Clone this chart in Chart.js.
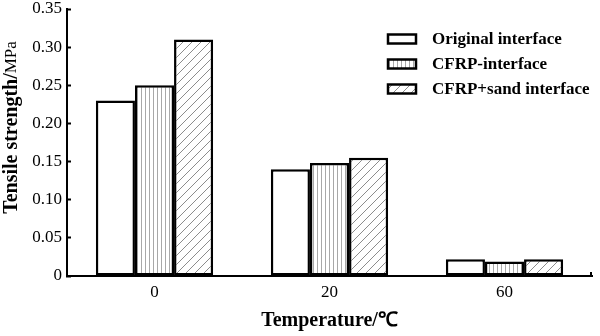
<!DOCTYPE html>
<html>
<head>
<meta charset="utf-8">
<title>Tensile strength vs temperature</title>
<script src="https://cdn.jsdelivr.net/npm/chart.js@4.4.0/dist/chart.umd.min.js"></script>
<style>
    html, body { margin: 0; padding: 0; background: #fff; }
    #wrap { width: 600px; height: 336px; }
</style>
</head>
<body>
<div id="wrap"><canvas id="strengthChart" width="600" height="336"></canvas></div>
<script>
// Data
const temperatures = ['0', '20', '60'];
const seriesNames = ['Original interface', 'CFRP-interface', 'CFRP+sand interface'];
const originalValues = [0.23, 0.14, 0.022];
const cfrpValues = [0.25, 0.148, 0.019];
const cfrpSandValues = [0.31, 0.155, 0.022];
const yTicks = [0, 0.05, 0.10, 0.15, 0.20, 0.25, 0.30, 0.35];

const SERIF = '"Liberation Serif", "Times New Roman", serif';

// Hatch fills
function makePattern(kind) {
    const tile = document.createElement('canvas');
    const ctx = tile.getContext('2d');
    if (kind === 'vertical') {
        tile.width = 4; tile.height = 4;
        ctx.fillStyle = '#fff';
        ctx.fillRect(0, 0, 4, 4);
        ctx.fillStyle = '#a8a8a8';
        ctx.fillRect(1, 0, 1, 4);
    } else if (kind === 'diagonal') {
        const s = 9;
        tile.width = s; tile.height = s;
        ctx.fillStyle = '#fff';
        ctx.fillRect(0, 0, s, s);
        ctx.strokeStyle = '#8c8c8c';
        ctx.lineWidth = 1;
        ctx.beginPath();
        ctx.moveTo(-1, s + 1); ctx.lineTo(s + 1, -1);
        ctx.moveTo(-1, 1); ctx.lineTo(1, -1);
        ctx.moveTo(s - 1, s + 1); ctx.lineTo(s + 1, s - 1);
        ctx.stroke();
    } else {
        tile.width = 2; tile.height = 2;
        ctx.fillStyle = '#fff';
        ctx.fillRect(0, 0, 2, 2);
    }
    return document.getElementById('strengthChart').getContext('2d').createPattern(tile, 'repeat');
}

const fills = [makePattern('plain'), makePattern('vertical'), makePattern('diagonal')];

// Legend in the upper right of the plot
const boxLegend = {
    id: 'boxLegend',
    afterDraw(chart) {
        const ctx = chart.ctx;
        const area = chart.chartArea;
        const x0 = area.right - 204;
        ctx.save();
        chart.data.datasets.forEach((ds, i) => {
            const y = area.top + 30 + i * 25;
            ctx.fillStyle = ds.backgroundColor;
            ctx.fillRect(x0, y - 4.5, 28, 9);
            ctx.strokeStyle = '#000';
            ctx.lineWidth = 2.5;
            ctx.strokeRect(x0, y - 4.5, 28, 9);
            ctx.fillStyle = '#000';
            ctx.font = 'bold 17px ' + SERIF;
            ctx.textBaseline = 'middle';
            ctx.textAlign = 'left';
            ctx.fillText(ds.label, x0 + 44, y + 1);
        });
        ctx.restore();
    }
};

// Y axis title with mixed weight, plus the end tick on the x axis
const axisExtras = {
    id: 'axisExtras',
    afterDraw(chart) {
        const ctx = chart.ctx;
        const area = chart.chartArea;
        const bold = 'Tensile strength/';
        const unit = 'MPa';
        ctx.save();
        ctx.strokeStyle = '#000';
        ctx.lineWidth = 2;
        ctx.beginPath();
        ctx.moveTo(area.right - 1, area.bottom);
        ctx.lineTo(area.right - 1, area.bottom - 4);
        ctx.stroke();

        ctx.translate(12, (area.top + area.bottom) / 2 - 15);
        ctx.rotate(-Math.PI / 2);
        ctx.textBaseline = 'middle';
        ctx.textAlign = 'left';
        ctx.font = 'bold 20px ' + SERIF;
        const w1 = ctx.measureText(bold).width;
        ctx.font = '17px ' + SERIF;
        const w2 = ctx.measureText(unit).width;
        const start = -(w1 + w2) / 2;
        ctx.fillStyle = '#000';
        ctx.font = 'bold 20px ' + SERIF;
        ctx.fillText(bold, start, 0);
        ctx.font = '17px ' + SERIF;
        ctx.fillText(unit, start + w1, 0);
        ctx.restore();
    }
};

const chart = new Chart(document.getElementById('strengthChart'), {
    type: 'bar',
    data: {
        labels: temperatures,
        datasets: [
            { label: seriesNames[0], data: originalValues, backgroundColor: fills[0] },
            { label: seriesNames[1], data: cfrpValues, backgroundColor: fills[1] },
            { label: seriesNames[2], data: cfrpSandValues, backgroundColor: fills[2] }
        ].map(ds => Object.assign(ds, {
            borderColor: '#000',
            borderWidth: 2.5,
            borderSkipped: false,
            categoryPercentage: 0.67,
            barPercentage: 1.0
        }))
    },
    options: {
        responsive: false,
        animation: false,
        layout: { padding: { top: 9, right: 8, left: 0, bottom: 0 } },
        plugins: {
            legend: { display: false },
            tooltip: { enabled: false }
        },
        scales: {
            x: {
                offset: true,
                grid: { display: false, drawTicks: false },
                border: { display: true, color: '#000', width: 2 },
                ticks: { color: '#000', font: { family: SERIF, size: 17 }, padding: 6 },
                title: {
                    display: true,
                    text: 'Temperature/℃',
                    color: '#000',
                    font: { family: SERIF, size: 20, weight: 'bold' },
                    padding: { top: 0, bottom: 3 }
                },
                afterFit(scale) {
                    scale.height = 60;
                    scale.paddingLeft = 0;
                    scale.paddingRight = 0;
                }
            },
            y: {
                min: 0,
                max: 0.35,
                // short inward tick marks
                grid: { display: true, drawOnChartArea: false, drawTicks: true, tickLength: -4, color: '#000', tickWidth: 2 },
                border: { display: true, color: '#000', width: 2 },
                afterBuildTicks(scale) { scale.ticks = yTicks.map(v => ({ value: v })); },
                ticks: {
                    color: '#000',
                    font: { family: SERIF, size: 17 },
                    padding: 9,
                    callback: v => v === 0 ? '0' : v.toFixed(2)
                },
                afterFit(scale) {
                    scale.width = 67;
                    scale.paddingTop = 0;
                    scale.paddingBottom = 0;
                }
            }
        }
    },
    plugins: [boxLegend, axisExtras]
});
</script>
</body>
</html>
